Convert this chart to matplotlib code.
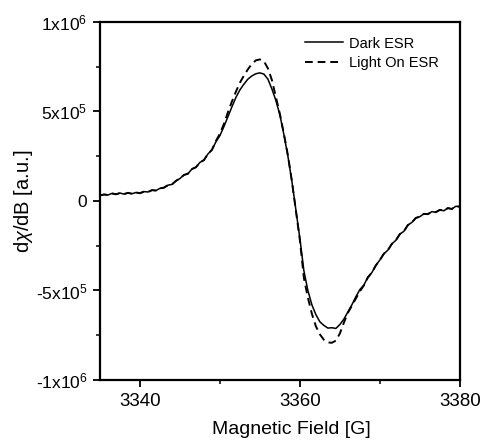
import matplotlib
matplotlib.use("Agg")
import matplotlib.pyplot as plt
from matplotlib.ticker import MultipleLocator
import numpy as np

plt.rcParams['font.family'] = ['Liberation Sans', 'DejaVu Sans']
plt.rcParams['mathtext.fontset'] = 'custom'
plt.rcParams['mathtext.rm'] = 'Liberation Sans'
plt.rcParams['mathtext.it'] = 'Liberation Sans:italic'

# Magnetic field sample positions [G] (0.5 G steps)
field = np.arange(3335.0, 3380.25, 0.5)

# dχ/dB in units of 1e5
dark = [0.30, 0.36, 0.33, 0.42, 0.37, 0.44, 0.38, 0.45, 0.40, 0.47,
        0.43, 0.52, 0.50, 0.60, 0.58, 0.70, 0.74, 0.88, 0.92, 1.12,
        1.25, 1.45, 1.52, 1.78, 1.88, 2.15, 2.28, 2.62, 2.85, 3.30,
        3.65,
        4.15, 4.70, 5.25, 5.78, 6.20, 6.52, 6.80, 6.98, 7.10, 7.15,
        7.08, 6.80, 6.25, 5.60, 4.80, 3.70, 2.50, 1.10, -0.50, -2.10,
        -3.90, -5.00, -5.80, -6.35, -6.75, -6.95, -7.10, -7.08, -7.12, -6.90,
        -6.60, -6.20, -5.80, -5.35,
        -4.95, -4.70, -4.25, -4.00, -3.60, -3.30, -2.95, -2.75, -2.40, -2.20,
        -1.85, -1.70, -1.35, -1.20, -0.95, -0.88, -0.72, -0.74, -0.60, -0.63,
        -0.50, -0.55, -0.40, -0.45, -0.30, -0.32]

light = [0.30, 0.36, 0.33, 0.42, 0.37, 0.44, 0.38, 0.45, 0.40, 0.47,
         0.43, 0.52, 0.50, 0.60, 0.58, 0.70, 0.74, 0.88, 0.92, 1.12,
         1.25, 1.45, 1.52, 1.78, 1.88, 2.15, 2.28, 2.62, 2.85,
         3.35, 3.75, 4.30, 4.95, 5.55, 6.10, 6.60, 7.00, 7.35, 7.65,
         7.85, 7.90, 7.80, 7.40, 6.75, 5.80, 4.85, 3.75, 2.55, 1.10,
         -0.55, -2.20, -4.30, -5.40, -6.30, -7.00, -7.45, -7.75, -7.90, -7.92,
         -7.80, -7.40, -6.80, -6.25, -5.85, -5.45, -5.05, -4.72, -4.28,
         -4.00, -3.60, -3.30, -2.95, -2.75, -2.40, -2.20, -1.85, -1.70, -1.35,
         -1.20, -0.95, -0.88, -0.72, -0.74, -0.60, -0.63, -0.50, -0.55, -0.40,
         -0.45, -0.30, -0.32]

series_labels = ['Dark ESR', 'Light On ESR']
ytick_values = [-1e6, -5e5, 0, 5e5, 1e6]
ytick_labels = [r'-1x10$^{6}$', r'-5x10$^{5}$', '0', r'5x10$^{5}$', r'1x10$^{6}$']
xtick_values = [3340, 3360, 3380]

fig = plt.figure(figsize=(4.83, 4.45), dpi=100)
ax = fig.add_axes([0.207, 0.146, 0.745, 0.805])

ax.plot(field, np.array(dark) * 1e5, color='black', lw=1.1, label=series_labels[0])
ax.plot(field, np.array(light) * 1e5, color='black', lw=1.4, ls=(0, (4, 2.5)),
        label=series_labels[1])

ax.set_xlim(3335, 3380)
ax.set_ylim(-1e6, 1e6)
ax.set_xticks(xtick_values)
ax.set_xticklabels([str(v) for v in xtick_values], fontsize=13.5)
ax.xaxis.set_minor_locator(MultipleLocator(10))
ax.set_yticks(ytick_values)
ax.set_yticklabels(ytick_labels, fontsize=12.5)
ax.yaxis.set_minor_locator(MultipleLocator(2.5e5))

ax.tick_params(which='major', direction='out', length=5, width=1.3, pad=4)
ax.tick_params(which='minor', direction='out', length=3, width=1.1)
for s in ax.spines.values():
    s.set_linewidth(1.6)

ax.set_xlabel('Magnetic Field [G]', fontsize=14, labelpad=10)
ax.xaxis.set_label_coords(0.533, -0.115)
ax.set_ylabel(r'd$\chi$/dB [a.u.]', fontsize=14.5, labelpad=0.5)

ax.legend(loc='upper right', bbox_to_anchor=(0.958, 0.975), borderaxespad=0,
          frameon=False, fontsize=10.5, handlelength=2.6,
          handletextpad=0.4, labelspacing=0.35)

fig.savefig('out.png', dpi=100)
